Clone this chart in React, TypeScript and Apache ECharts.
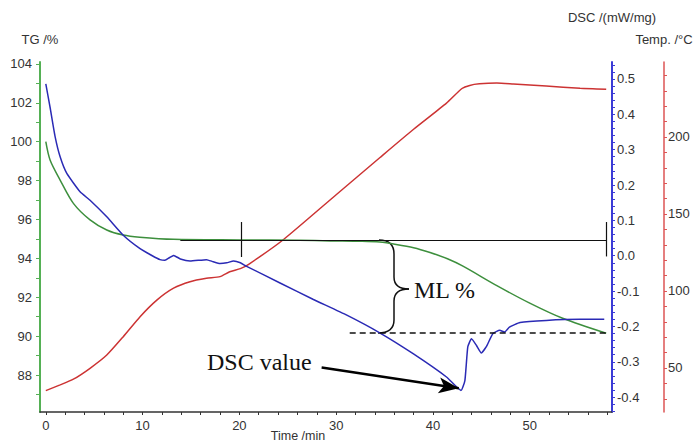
import React, { useEffect, useRef } from 'react';
import * as echarts from 'echarts';

// ---- Data ----
const tgTime = [0, 0.44, 1.48, 2.85, 4.57, 6.3, 8.0, 9.7, 13.2, 20.1, 26.2, 29.4, 32.5, 34.5, 36.2, 38.0, 39.7, 41.5, 43.1, 46.6, 50.0, 53.4, 57.9];
const tgValues = [100.0, 99.06, 98.03, 96.83, 95.98, 95.46, 95.2, 95.09, 94.98, 94.95, 94.93, 94.9, 94.88, 94.84, 94.72, 94.55, 94.3, 93.98, 93.6, 92.6, 91.7, 90.92, 90.15];

const dscTime = [0, 0.44, 0.96, 1.48, 2.17, 3.54, 4.57, 6.3, 8.0, 9.74, 11.0, 11.8, 12.3, 12.8, 13.2, 13.9, 14.9, 16.6, 17.3, 18.0, 18.7, 19.4, 20.1, 20.75, 24.2, 27.6, 31.1, 34.5, 37.95, 41.4, 42.9, 43.3, 43.6, 43.98, 44.5, 45.0, 45.5, 46.2, 46.9, 47.4, 47.9, 49.0, 51.7, 55.2, 57.7];
const dscValues = [0.486, 0.42, 0.337, 0.28, 0.233, 0.181, 0.157, 0.11, 0.058, 0.02, 0.0, -0.011, -0.013, -0.005, 0.001, -0.009, -0.015, -0.011, -0.017, -0.022, -0.02, -0.015, -0.02, -0.03, -0.077, -0.123, -0.168, -0.218, -0.277, -0.343, -0.381, -0.353, -0.258, -0.235, -0.254, -0.275, -0.258, -0.22, -0.211, -0.216, -0.202, -0.189, -0.183, -0.18, -0.18];

const tempTime = [0, 1.48, 2.85, 4.57, 6.3, 8.0, 9.74, 11.5, 13.2, 14.9, 16.6, 18.0, 19.0, 20.1, 21.0, 24.5, 30.0, 34.5, 38.0, 41.4, 43.0, 43.8, 44.8, 46.6, 48.3, 51.7, 55.2, 57.9];
const tempValues = [35.3, 39.0, 42.7, 49.8, 58.4, 70.3, 83.3, 94.2, 101.8, 106.0, 108.2, 109.3, 112.5, 114.5, 117.5, 133.1, 162.5, 186.5, 205.0, 222.0, 231.5, 233.5, 234.5, 235.0, 234.4, 233.1, 231.6, 231.0];

const xLabels = [0, 10, 20, 30, 40, 50];
const tgLabels = [88, 90, 92, 94, 96, 98, 100, 102, 104];
const dscLabels = [-0.4, -0.3, -0.2, -0.1, 0.0, 0.1, 0.2, 0.3, 0.4, 0.5];
const tempLabels = [50, 100, 150, 200];

// annotation anchors (data coords)
const mlLevel = 94.95;
const mlLineStart = 13.9;
const mlTickA = 20.16;
const mlEnd = 57.95;
const dashedLevel = 90.16;
const dashedStart = 31.4;
const arrowFrom = [28.5, -0.316];
const arrowTo = [42.67, -0.375];

const zip = (a: number[], b: number[]) => a.map((v, i) => [v, b[i]]);
const range = (from: number, to: number, step: number) => {
  const out: number[] = [];
  for (let v = from; v <= to + 1e-9; v += step) out.push(Math.round(v * 1000) / 1000);
  return out;
};

const SANS = '"Liberation Sans", Arial, sans-serif';
const SERIF = '"Liberation Serif", "Times New Roman", serif';

export default function App() {
  const ref = useRef<HTMLDivElement>(null);
  useEffect(() => {
    const chart = echarts.init(ref.current!, null, { renderer: 'svg' });
    const labelStyle = { color: '#333', fontSize: 13, fontFamily: SANS };
    const option: any = {
      animation: false,
      backgroundColor: '#fff',
      grid: { left: 40, right: 83, top: 62, bottom: 33, containLabel: false, outerBoundsMode: 'none' },
      xAxis: {
        type: 'value',
        min: -0.6,
        max: 58.5,
        axisLine: { show: true, onZero: false, lineStyle: { color: '#333', width: 1.5 } },
        axisTick: { show: true, customValues: range(0, 58, 2), length: 3, lineStyle: { color: '#333' } },
        axisLabel: { ...labelStyle, customValues: xLabels, margin: 7 },
        splitLine: { show: false },
      },
      yAxis: [
        {
          type: 'value',
          position: 'left',
          min: 86.1,
          max: 104.1,
          name: 'TG /%',
          nameLocation: 'end',
          nameGap: 16,
          nameTextStyle: { ...labelStyle },
          axisLine: { show: true, onZero: false, lineStyle: { color: '#55b055', width: 2 } },
          axisTick: { show: true, customValues: range(87, 104, 1), length: 4, lineStyle: { color: '#55b055' } },
          axisLabel: { ...labelStyle, customValues: tgLabels, margin: 8 },
          splitLine: { show: false },
        },
        {
          type: 'value',
          position: 'right',
          offset: 0,
          min: -0.442,
          max: 0.548,
          name: 'DSC /(mW/mg)',
          nameLocation: 'end',
          nameGap: 38,
          nameTextStyle: { ...labelStyle },
          axisLine: { show: true, onZero: false, lineStyle: { color: '#3b3bd6', width: 2 } },
          axisTick: { show: true, customValues: range(-0.44, 0.54, 0.02), length: 3, lineStyle: { color: '#3b3bd6' } },
          axisLabel: { ...labelStyle, customValues: dscLabels, margin: 5, formatter: (v: number) => v.toFixed(1) },
          splitLine: { show: false },
        },
        {
          type: 'value',
          position: 'right',
          offset: 52,
          min: 21.4,
          max: 248.7,
          name: 'Temp. /°C',
          nameLocation: 'end',
          nameGap: 16,
          nameTextStyle: { ...labelStyle },
          axisLine: { show: true, onZero: false, lineStyle: { color: '#dd5555', width: 1.5 } },
          axisTick: { show: true, customValues: range(30, 240, 10), length: 3, lineStyle: { color: '#dd5555' } },
          axisLabel: { ...labelStyle, customValues: tempLabels, margin: 4 },
          splitLine: { show: false },
        },
      ],
      series: [
        {
          name: 'Temp',
          type: 'line',
          yAxisIndex: 2,
          data: zip(tempTime, tempValues),
          showSymbol: false,
          smooth: 0.2,
          lineStyle: { color: '#cc3333', width: 1.5 },
          z: 2,
        },
        {
          name: 'TG',
          type: 'line',
          yAxisIndex: 0,
          data: zip(tgTime, tgValues),
          showSymbol: false,
          smooth: 0.3,
          lineStyle: { color: '#3d8f3d', width: 1.5 },
          z: 3,
          markLine: {
            silent: true,
            symbol: ['none', 'none'],
            label: { show: false },
            emphasis: { disabled: true },
            lineStyle: { color: '#111', width: 1.2, type: 'solid' },
            data: [
              [{ coord: [mlLineStart, mlLevel] }, { coord: [mlEnd, mlLevel] }],
              [{ coord: [mlTickA, 95.87] }, { coord: [mlTickA, 94.07] }],
              [{ coord: [mlEnd, 95.87] }, { coord: [mlEnd, 94.1] }],
              [
                { coord: [dashedStart, dashedLevel], lineStyle: { type: [6, 4], width: 1.6, color: '#111' } },
                { coord: [mlEnd, dashedLevel] },
              ],
            ],
          },
        },
        {
          name: 'DSC',
          type: 'line',
          yAxisIndex: 1,
          data: zip(dscTime, dscValues),
          showSymbol: false,
          smooth: 0.15,
          lineStyle: { color: '#2a2ab5', width: 1.5 },
          z: 4,
          markLine: {
            silent: true,
            symbol: ['none', 'arrow'],
            symbolSize: [12, 20],
            label: { show: false },
            emphasis: { disabled: true },
            lineStyle: { color: '#000', width: 2.5, type: 'solid' },
            data: [[{ coord: arrowFrom }, { coord: arrowTo }]],
          },
        },
      ],
      graphic: [
        {
          type: 'group',
          silent: true,
          children: [
            { type: 'bezierCurve', shape: { x1: 379, y1: 240, x2: 394, y2: 254, cpx1: 394, cpy1: 240 }, style: { stroke: '#111', lineWidth: 1.5, fill: 'none' } },
            { type: 'line', shape: { x1: 394, y1: 254, x2: 394, y2: 277 }, style: { stroke: '#111', lineWidth: 1.5 } },
            { type: 'bezierCurve', shape: { x1: 394, y1: 277, x2: 409, y2: 289, cpx1: 394, cpy1: 289 }, style: { stroke: '#111', lineWidth: 1.5, fill: 'none' } },
            { type: 'bezierCurve', shape: { x1: 409, y1: 289, x2: 394, y2: 301, cpx1: 394, cpy1: 289 }, style: { stroke: '#111', lineWidth: 1.5, fill: 'none' } },
            { type: 'line', shape: { x1: 394, y1: 301, x2: 394, y2: 320 }, style: { stroke: '#111', lineWidth: 1.5 } },
            { type: 'bezierCurve', shape: { x1: 394, y1: 320, x2: 378, y2: 333, cpx1: 394, cpy1: 333 }, style: { stroke: '#111', lineWidth: 1.5, fill: 'none' } },
          ],
        },
        {
          type: 'text',
          left: 414,
          top: 278,
          silent: true,
          style: { text: 'ML %', font: `24px ${SERIF}`, fill: '#111' },
        },
        {
          type: 'text',
          left: 207,
          top: 350,
          silent: true,
          style: { text: 'DSC value', font: `24px ${SERIF}`, fill: '#111' },
        },
        {
          type: 'text',
          x: 298,
          y: 436,
          silent: true,
          style: { text: 'Time /min', font: `12.5px ${SANS}`, fill: '#333', align: 'center', verticalAlign: 'middle' },
        },
      ],
    };
    chart.setOption(option);
    return () => chart.dispose();
  }, []);
  return <div ref={ref} style={{ position: 'fixed', left: 0, top: 0, width: 695, height: 445 }} />;
}
